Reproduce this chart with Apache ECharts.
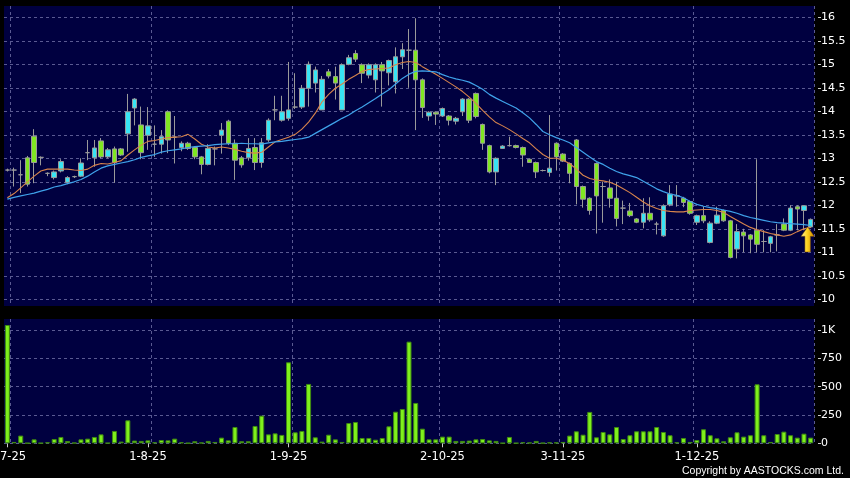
<!DOCTYPE html>
<html><head><meta charset="utf-8">
<script src="https://cdn.jsdelivr.net/npm/echarts@6/dist/echarts.min.js"></script>
<style>html,body{margin:0;padding:0;background:#000}#c{width:850px;height:478px}</style>
</head><body><div id="c"></div>
<script>
// ---- data ----
const categories = Array.from({length: 121}, (_, i) => String(i)); // trading-day index
const tickIndex  = [0, 21, 42, 65, 83, 103];
const tickLabels = ['2-7-25', '1-8-25', '1-9-25', '2-10-25', '3-11-25', '1-12-25'];
const gridIndex  = [1, 22, 43, 65, 83, 103];
const priceTicks = {min: 10, max: 16, step: 0.5};
const volTicks   = {min: 0, max: 1000, step: 250};

const opens = [
12.75,12.75,12.65,13.01,13.47,13.02,12.68,12.59,12.73,12.49,
12.61,12.62,13.12,13.01,13.37,13.03,13.20,13.20,13.52,14.07,
13.71,13.49,13.30,13.30,13.99,13.45,13.23,13.32,13.23,13.03,
12.87,13.20,13.49,13.79,13.32,13.01,13.01,13.23,12.91,13.39,
14.03,13.81,13.85,14.09,14.09,14.49,14.60,14.03,14.84,14.74,
14.03,15.00,15.23,14.99,14.77,14.67,14.99,14.82,14.63,15.16,
15.30,15.30,14.67,13.90,13.98,13.90,13.90,13.79,13.99,14.26,
14.38,13.72,13.27,12.71,13.21,13.27,13.27,13.23,12.98,12.91,
12.74,12.70,13.32,13.09,12.89,13.39,12.40,12.15,12.89,12.40,
12.37,12.15,11.94,11.88,11.71,11.64,11.83,11.60,11.35,12.01,
12.20,12.15,12.08,11.64,11.78,11.21,11.62,11.89,11.67,11.07,
11.43,11.37,11.47,11.23,11.19,11.37,11.60,11.47,11.97,11.89,
11.54];
const closes = [
12.75,12.75,12.65,12.45,12.91,13.02,12.68,12.71,12.93,12.59,
12.61,12.90,13.12,13.22,13.03,13.18,12.91,13.07,13.99,14.26,
13.12,13.69,13.30,13.46,13.39,13.45,13.32,13.21,13.03,12.87,
13.21,13.20,13.60,13.32,12.96,12.86,13.21,12.91,13.33,13.81,
14.03,13.99,14.03,14.09,14.49,15.00,14.88,14.68,14.75,14.60,
14.99,15.14,15.11,14.81,14.99,14.99,14.86,15.08,15.16,15.31,
15.30,14.67,14.08,13.98,13.94,14.06,13.81,13.85,14.26,13.81,
13.89,13.32,12.71,13.00,13.26,13.27,13.23,13.07,12.91,12.71,
12.74,12.79,13.03,12.94,12.68,12.40,12.13,11.89,12.20,12.40,
12.15,11.72,11.94,11.78,11.64,11.83,11.69,11.60,11.99,12.24,
12.20,12.06,11.83,11.78,11.67,11.62,11.79,11.67,10.89,11.44,
11.35,11.28,11.17,11.23,11.33,11.37,11.47,11.94,11.92,11.99,
11.70];
const lows = [
12.72,12.40,12.26,12.40,12.47,12.85,12.62,12.55,12.70,12.45,
12.58,12.60,12.96,12.82,13.00,13.00,12.48,13.05,13.14,13.70,
12.98,13.18,13.03,13.10,13.11,12.89,13.15,13.18,12.98,12.66,
12.85,12.85,13.10,13.28,12.54,12.80,12.95,12.75,12.80,13.35,
13.81,13.78,13.80,14.05,14.05,14.10,14.40,14.03,14.70,14.25,
14.03,14.98,15.05,14.60,14.70,14.40,14.10,14.55,14.38,14.90,
14.50,13.60,13.86,13.80,13.71,13.88,13.70,13.72,13.90,13.75,
13.85,13.18,12.68,12.43,13.20,13.25,13.21,12.82,12.90,12.58,
12.72,12.61,12.74,12.92,12.47,12.02,11.95,11.80,11.40,11.63,
11.95,11.55,11.60,11.75,11.62,11.51,11.65,11.38,11.33,11.98,
11.97,11.96,11.80,11.58,11.62,11.19,11.60,11.65,10.87,10.87,
11.00,10.98,11.00,11.00,11.00,11.02,11.45,11.45,11.47,11.47,
11.52];
const highs = [
12.78,12.80,12.96,13.05,13.62,13.04,12.70,12.74,12.98,12.62,
12.63,13.00,13.39,13.39,13.43,13.22,13.25,13.22,14.37,14.28,
14.10,14.09,13.70,13.60,14.02,13.90,13.36,13.35,13.26,13.05,
13.30,13.25,13.75,13.82,13.40,13.05,13.43,13.43,13.43,13.85,
14.33,14.33,15.05,14.81,14.56,15.06,14.95,14.75,14.90,14.95,
15.02,15.20,15.30,15.02,15.02,15.02,15.05,15.10,15.36,15.45,
15.75,15.98,14.70,14.00,14.00,14.08,13.92,13.88,14.28,14.28,
14.40,13.74,13.29,13.02,13.28,13.46,13.29,13.25,13.00,12.93,
12.76,13.92,13.34,13.11,12.91,13.41,12.42,12.17,12.91,12.50,
12.55,12.50,12.10,12.05,11.73,12.15,12.17,11.65,12.02,12.43,
12.43,12.18,12.10,11.80,11.98,11.66,11.97,11.91,11.69,11.60,
11.50,11.39,12.98,11.47,11.35,11.60,11.72,12.00,12.00,12.00,
11.72];
const maShort = [
12.16,12.25,12.37,12.50,12.62,12.73,12.77,12.77,12.77,12.77,
12.75,12.74,12.77,12.85,12.89,12.88,12.91,12.95,13.07,13.18,
13.28,13.36,13.38,13.41,13.44,13.45,13.46,13.51,13.41,13.30,
13.24,13.22,13.24,13.22,13.19,13.15,13.12,13.11,13.13,13.24,
13.35,13.40,13.45,13.51,13.62,13.77,13.96,14.20,14.36,14.49,
14.58,14.68,14.76,14.85,14.89,14.90,14.91,14.92,14.99,15.04,
15.06,15.04,14.95,14.87,14.79,14.70,14.61,14.52,14.42,14.30,
14.17,14.02,13.88,13.76,13.69,13.61,13.52,13.42,13.33,13.20,
13.08,13.00,13.00,12.96,12.89,12.77,12.64,12.57,12.54,12.52,
12.49,12.43,12.35,12.27,12.17,12.07,11.99,11.93,11.89,11.87,
11.86,11.86,11.89,11.90,11.91,11.91,11.89,11.85,11.76,11.68,
11.60,11.53,11.48,11.44,11.40,11.37,11.34,11.37,11.44,11.50,
11.53];
const maLong = [
12.13,12.17,12.20,12.23,12.26,12.30,12.34,12.39,12.42,12.46,
12.50,12.55,12.62,12.71,12.79,12.84,12.87,12.90,12.93,12.97,
13.02,13.05,13.08,13.13,13.16,13.18,13.20,13.23,13.25,13.26,
13.27,13.29,13.30,13.31,13.31,13.32,13.31,13.31,13.30,13.33,
13.35,13.36,13.38,13.40,13.42,13.45,13.53,13.61,13.69,13.77,
13.85,13.92,14.01,14.09,14.18,14.27,14.37,14.46,14.58,14.70,
14.79,14.85,14.86,14.85,14.84,14.78,14.73,14.69,14.66,14.62,
14.55,14.47,14.36,14.28,14.21,14.14,14.07,13.97,13.86,13.72,
13.57,13.50,13.44,13.39,13.33,13.23,13.13,13.03,12.93,12.87,
12.79,12.72,12.67,12.63,12.59,12.51,12.43,12.35,12.29,12.24,
12.21,12.16,12.08,12.02,11.98,11.95,11.93,11.90,11.87,11.83,
11.78,11.74,11.71,11.68,11.65,11.63,11.62,11.61,11.60,11.59,
11.57];
const volumes = [
1044,12,68,2,35,2,9,38,56,20,
5,35,41,56,79,3,109,15,203,24,
21,26,9,29,26,41,9,2,18,6,
21,12,50,26,144,18,18,153,244,79,
88,74,715,97,109,524,53,15,76,35,
12,179,188,47,47,32,47,150,279,303,
897,356,129,35,35,59,59,21,21,24,
35,38,26,21,2,56,2,9,6,21,
3,8,8,12,68,106,76,277,53,100,
79,144,38,71,106,106,106,144,100,71,
9,47,12,29,124,71,44,18,53,97,
59,71,521,71,12,82,103,71,50,85,
50];
const arrowIndex = 120;

// ---- chart ----
const chart = echarts.init(document.getElementById('c'));
const L = 4, R = 36;
const panel = '#000040';
const gcol = '#5a5a92';
const font = 'DejaVu Sans';
const candleData = opens.map((o, i) => [o, closes[i], lows[i], highs[i]]);
const vSplit = {show: true, interval: (i) => gridIndex.includes(i), lineStyle: {color: gcol, type: [3, 3], width: 1}};
const hSplit = {show: true, lineStyle: {color: gcol, type: [3, 3], width: 1}};
const arrowPath = 'path://M6,0 L12,9 L8.5,9 L8.5,24 L3.5,24 L3.5,9 L0,9 Z';
const gridBase = {left: L, right: R, outerBoundsMode: 'none', containLabel: false};

chart.setOption({
  backgroundColor: '#000',
  animation: false,
  title: {text: 'Copyright by AASTOCKS.com Ltd.', right: 6, bottom: 1, padding: 0,
    textStyle: {color: '#fff', fontSize: 10.5, fontWeight: 'normal', fontFamily: 'Liberation Sans'}},
  grid: [
    Object.assign({top: 6, height: 300, show: true, backgroundColor: panel, borderWidth: 0}, gridBase),
    Object.assign({top: 319, height: 124.3, show: true, backgroundColor: panel, borderWidth: 0}, gridBase),
    Object.assign({top: 17.3, height: 282}, gridBase),
    Object.assign({top: 330, height: 113.3}, gridBase)
  ],
  xAxis: [
    {gridIndex: 0, type: 'category', data: categories, axisLine: {show: false}, axisTick: {show: false}, axisLabel: {show: false}, splitLine: vSplit},
    {gridIndex: 1, type: 'category', data: categories, axisLine: {show: false},
      axisTick: {show: true, alignWithLabel: true, interval: (i) => tickIndex.includes(i), length: 4, lineStyle: {color: '#cccccc'}},
      axisLabel: {interval: (i) => tickIndex.includes(i), formatter: (v, i) => tickLabels[tickIndex.indexOf(i)], color: '#fff', fontSize: 11.5, fontFamily: font, margin: 8, alignMinLabel: 'center', alignMaxLabel: 'center'},
      splitLine: vSplit},
    {gridIndex: 2, type: 'category', data: categories, show: false},
    {gridIndex: 3, type: 'category', data: categories, show: false}
  ],
  yAxis: [
    {gridIndex: 0, type: 'value', min: 0, max: 1, show: false},
    {gridIndex: 1, type: 'value', min: 0, max: 1, show: false},
    {gridIndex: 2, type: 'value', position: 'right', offset: 4, min: priceTicks.min, max: priceTicks.max, interval: priceTicks.step,
      axisLine: {show: false}, axisTick: {show: true, length: 3, lineStyle: {color: '#cccccc'}},
      axisLabel: {color: '#fff', fontSize: 11, fontFamily: font, margin: 3}, splitLine: hSplit},
    {gridIndex: 3, type: 'value', position: 'right', offset: 4, min: volTicks.min, max: volTicks.max, interval: volTicks.step,
      axisLine: {show: false}, axisTick: {show: true, length: 3, lineStyle: {color: '#cccccc'}},
      axisLabel: {color: '#fff', fontSize: 11, fontFamily: font, margin: 3, formatter: (v) => v >= 1000 ? (v / 1000) + 'K' : String(v)},
      splitLine: hSplit}
  ],
  series: [
    {type: 'candlestick', xAxisIndex: 2, yAxisIndex: 2, data: candleData, barWidth: 5,
      itemStyle: {color: '#38e4f4', color0: '#80e622', borderColor: '#9a9a9a', borderColor0: '#9a9a9a', borderColorDoji: '#9a9a9a', borderWidth: 1},
      markPoint: {
        silent: true,
        data: [{coord: [categories[arrowIndex], opens[arrowIndex]], symbol: arrowPath, symbolSize: [13, 25], symbolOffset: [-3, '50%'],
          itemStyle: {color: new echarts.graphic.LinearGradient(0, 0, 1, 0, [
            {offset: 0, color: '#fff4a8'}, {offset: 0.45, color: '#ffd420'}, {offset: 1, color: '#d08a00'}]),
            borderColor: '#8a5a00', borderWidth: 0.5},
          label: {show: false}}]
      }},
    {type: 'line', xAxisIndex: 2, yAxisIndex: 2, data: maShort, symbol: 'none', silent: true,
      lineStyle: {color: '#d8844c', width: 1.1}},
    {type: 'line', xAxisIndex: 2, yAxisIndex: 2, data: maLong, symbol: 'none', silent: true,
      lineStyle: {color: '#3fa2ea', width: 1.2}},
    {type: 'bar', xAxisIndex: 3, yAxisIndex: 3, data: volumes, barWidth: 5, clip: false, silent: true,
      itemStyle: {color: '#7ff01c', borderColor: '#3f8a12', borderWidth: 1}}
  ]
});
</script></body></html>
